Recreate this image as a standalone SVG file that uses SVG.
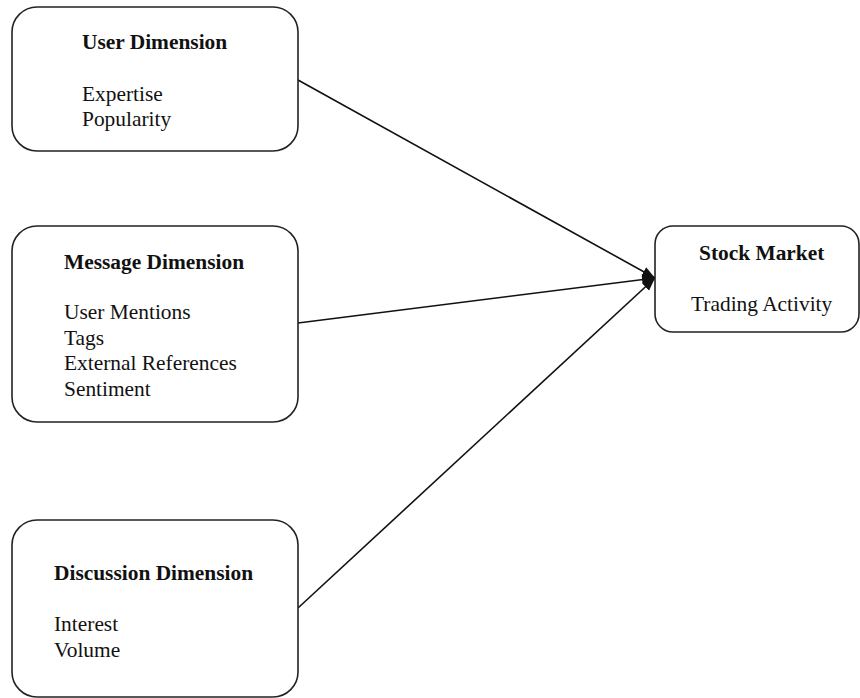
<svg xmlns="http://www.w3.org/2000/svg" width="860" height="698" viewBox="0 0 860 698">
<defs>
<style>
.box{fill:#fff;stroke:#222;stroke-width:1.6}
.t{font-family:"Liberation Serif","Times New Roman",serif;font-size:21.4px;fill:#111}
.b{font-weight:bold}
.c{stroke:#111;stroke-width:1.6;fill:none}
</style>
<marker id="ah" viewBox="0 0 10 10" refX="10" refY="5" markerWidth="13" markerHeight="13" markerUnits="userSpaceOnUse" orient="auto">
<path d="M0,1 L10,5 L0,9 z" fill="#111"/>
</marker>
</defs>
<rect width="860" height="698" fill="#fff"/>
<g id="connectors">
<line class="c" x1="298" y1="80" x2="655" y2="278" marker-end="url(#ah)"/>
<line class="c" x1="298" y1="323" x2="655" y2="278" marker-end="url(#ah)"/>
<line class="c" x1="298" y1="608" x2="655" y2="278" marker-end="url(#ah)"/>
</g>
<g id="user">
<rect class="box" x="12" y="7" width="286" height="144" rx="25"/>
<text class="t b" x="82" y="49">User Dimension</text>
<text class="t" x="82" y="101">Expertise</text>
<text class="t" x="82" y="126">Popularity</text>
</g>
<g id="message">
<rect class="box" x="12" y="226" width="286" height="196" rx="25"/>
<text class="t b" x="64" y="269">Message Dimension</text>
<text class="t" x="64" y="319">User Mentions</text>
<text class="t" x="64" y="345">Tags</text>
<text class="t" x="64" y="370">External References</text>
<text class="t" x="64" y="396">Sentiment</text>
</g>
<g id="discussion">
<rect class="box" x="12" y="520" width="286" height="177" rx="25"/>
<text class="t b" x="54" y="580">Discussion Dimension</text>
<text class="t" x="54" y="631">Interest</text>
<text class="t" x="54" y="657">Volume</text>
</g>
<g id="stock">
<rect class="box" x="655" y="226" width="204" height="106" rx="18"/>
<text class="t b" x="699" y="260">Stock Market</text>
<text class="t" x="691" y="311">Trading Activity</text>
</g>
</svg>
